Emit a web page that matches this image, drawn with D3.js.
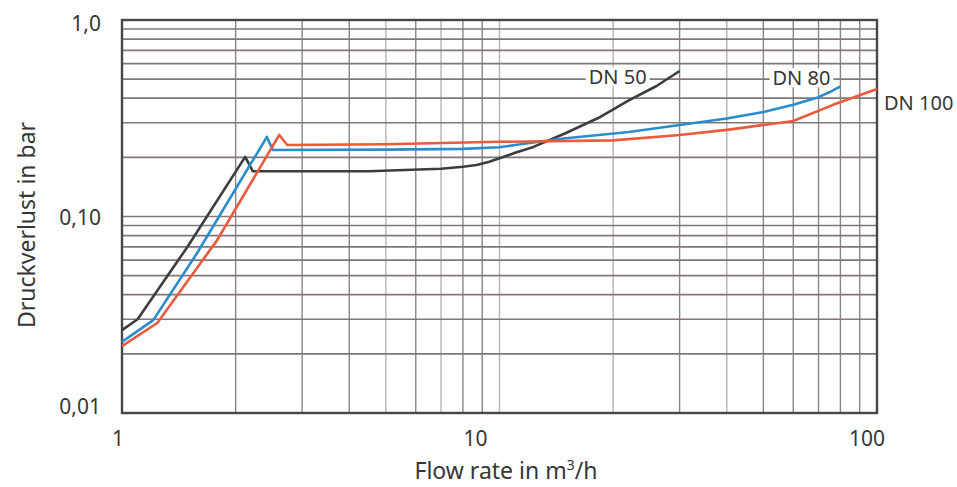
<!DOCTYPE html>
<html>
<head>
<meta charset="utf-8">
<script src="https://d3js.org/d3.v7.min.js"></script>
<style>
  body { margin: 0; background: #fff; }
  text { font-family: "Noto Sans", sans-serif; fill: #363636; }
</style>
</head>
<body>
<svg width="957" height="487"></svg>
<script>
// ticks
var xTicks = [1, 10, 100];
var xTickLabels = ["1", "10", "100"];
var yTicks = [0.01, 0.1, 1];
var yTickLabels = ["0,01", "0,10", "1,0"];

// curves: flow (m3/h) and pressure loss (bar)
var dn50Flow = [1, 1.1, 1.49, 2.12, 2.22, 4.5, 7, 8, 8.7, 9.4, 10, 11, 12.3, 15, 18.5, 22, 26, 30];
var dn50Loss = [0.0264, 0.030, 0.070, 0.201, 0.170, 0.170, 0.175, 0.179, 0.183, 0.190, 0.198, 0.211, 0.226, 0.266, 0.321, 0.39, 0.46, 0.55];

var dn80Flow = [1, 1.21, 1.58, 2.42, 2.51, 5, 8, 10, 11, 12.3, 15, 22, 30, 40, 50, 60, 70, 75, 80];
var dn80Loss = [0.023, 0.0297, 0.065, 0.254, 0.218, 0.219, 0.221, 0.225, 0.231, 0.238, 0.250, 0.269, 0.292, 0.315, 0.34, 0.37, 0.405, 0.43, 0.46];

var dn100Flow = [1, 1.24, 1.785, 2.61, 2.74, 5, 10, 20, 30, 40, 60, 76.5, 100];
var dn100Loss = [0.0219, 0.0287, 0.0756, 0.26, 0.231, 0.233, 0.240, 0.244, 0.260, 0.276, 0.306, 0.37, 0.445];

var seriesNames = ["DN 50", "DN 80", "DN 100"];

var plotLeft = 122, plotRight = 877, plotTop = 20, plotBottom = 413;

var svg = d3.select("svg");

var x = d3.scaleLog().domain([1, 100]).range([plotLeft, plotRight]);
var y = d3.scaleLog().domain([0.01, 1]).range([plotBottom, plotTop]);

// grid
var xMinor = [];
[1, 10].forEach(function(d) {
  for (var k = 2; k <= 9; k++) xMinor.push(d * k);
});
xMinor.push(10);
var yMinor = [];
[0.01, 0.1].forEach(function(d) {
  for (var k = 2; k <= 9; k++) yMinor.push(d * k);
});
yMinor.push(0.1);

var darkV = [2, 3, 4, 6, 8, 9, 60, 70, 80, 90, 30, 50];

svg.append("g").selectAll("line").data(xMinor).enter().append("line")
  .attr("x1", function(d) { return x(d); })
  .attr("x2", function(d) { return x(d); })
  .attr("y1", plotTop).attr("y2", plotBottom)
  .style("stroke", function(d) { return darkV.indexOf(Math.round(d)) >= 0 ? "#8a8585" : "#b5b2b2"; })
  .style("stroke-width", 1.4);

svg.append("g").selectAll("line").data(yMinor).enter().append("line")
  .attr("x1", plotLeft).attr("x2", plotRight)
  .attr("y1", function(d) { return y(d); })
  .attr("y2", function(d) { return y(d); })
  .style("stroke", "#817777")
  .style("stroke-width", 1.7);

// frame
svg.append("rect")
  .attr("x", plotLeft).attr("y", plotTop)
  .attr("width", plotRight - plotLeft).attr("height", plotBottom - plotTop)
  .style("fill", "none")
  .style("stroke", "#4a4646")
  .style("stroke-width", 2.4);

var line = d3.line()
  .x(function(d) { return x(d[0]); })
  .y(function(d) { return y(d[1]); });

var series = [
  { name: seriesNames[0], pts: d3.zip(dn50Flow, dn50Loss), color: "#3d3d3d" },
  { name: seriesNames[1], pts: d3.zip(dn80Flow, dn80Loss), color: "#2b8ccd" },
  { name: seriesNames[2], pts: d3.zip(dn100Flow, dn100Loss), color: "#ea5a3c" }
];

// label offsets from the end of each curve
var labelOffset = [
  { dx: -33, dy: 13, anchor: "end", box: true },
  { dx: -10, dy: -1, anchor: "end", box: true },
  { dx: 7, dy: 21, anchor: "start", box: false }
];

series.forEach(function(s, i) {
  var end = s.pts[s.pts.length - 1];
  var o = labelOffset[i];
  var t = svg.append("text")
    .attr("x", x(end[0]) + o.dx)
    .attr("y", y(end[1]) + o.dy)
    .attr("text-anchor", o.anchor)
    .style("font-size", "20px")
    .text(s.name);
  if (o.box) {
    var b = t.node().getBBox();
    svg.insert("rect", "text")
      .attr("x", b.x - 3).attr("y", b.y + 4)
      .attr("width", b.width + 6).attr("height", b.height - 8)
      .style("fill", "#fff");
  }
});

series.forEach(function(s) {
  svg.append("path")
    .datum(s.pts)
    .attr("d", line)
    .style("fill", "none")
    .style("stroke", s.color)
    .style("stroke-width", 2.6)
    .style("stroke-linejoin", "round");
});

// tick labels (the original places them a bit off the grid lines)
var xLabelShift = [-4, -24, -10];
svg.append("g").selectAll("text").data(xTicks).enter().append("text")
  .attr("x", function(d, i) { return x(d) + xLabelShift[i]; })
  .attr("y", 446)
  .attr("text-anchor", "middle")
  .style("font-size", "21px")
  .text(function(d, i) { return xTickLabels[i]; });

var yLabelShift = [-6, 1, 4];
svg.append("g").selectAll("text").data(yTicks).enter().append("text")
  .attr("x", 101)
  .attr("y", function(d, i) { return y(d) + yLabelShift[i]; })
  .attr("dy", "0.35em")
  .attr("text-anchor", "end")
  .style("font-size", "21px")
  .text(function(d, i) { return yTickLabels[i]; });

// axis titles
var xt = svg.append("text")
  .attr("x", 506).attr("y", 479)
  .attr("text-anchor", "middle")
  .style("font-size", "23px");
xt.append("tspan").text("Flow rate in m");
xt.append("tspan").attr("dy", -9).style("font-size", "14px").text("3");
xt.append("tspan").attr("dy", 9).text("/h");

svg.append("text")
  .attr("transform", "translate(35,225) rotate(-90)")
  .attr("text-anchor", "middle")
  .style("font-size", "23px")
  .text("Druckverlust in bar");
</script>
</body>
</html>
